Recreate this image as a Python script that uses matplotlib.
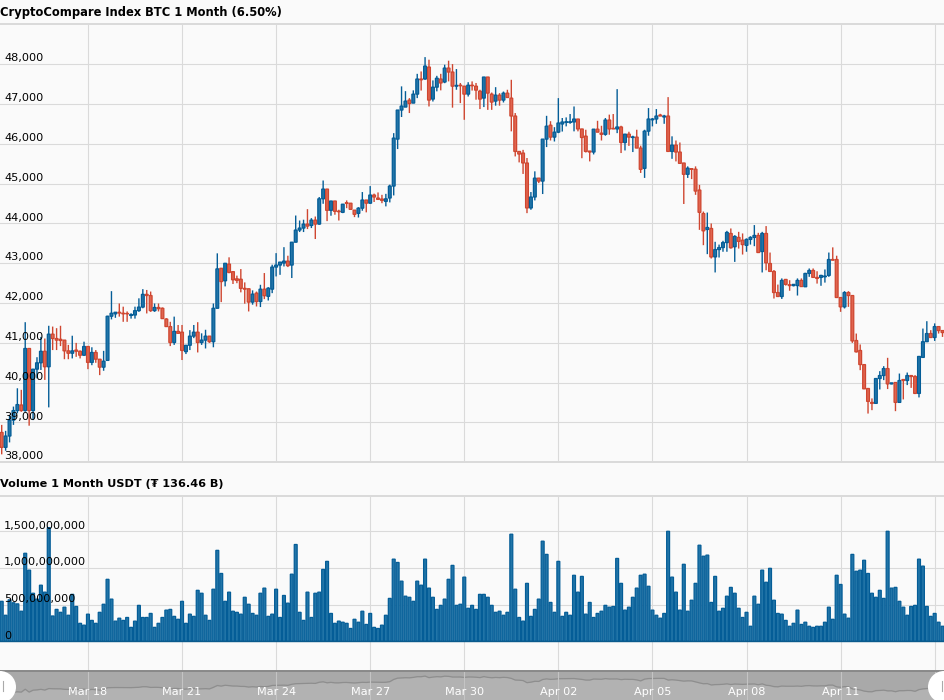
import matplotlib
matplotlib.use("Agg")
import matplotlib.pyplot as plt
from matplotlib.patches import Circle
from matplotlib.transforms import blended_transform_factory

W, H = 944, 700

opens = [
 38750,38375,38660,39060,39300,39440,39300,40860,39300,40340,
 40500,40790,40400,41220,41110,41090,41070,40800,40740,40820,
 40790,40690,40910,40510,40760,40590,40390,40560,41670,41730,
 41770,41745,41740,41690,41700,41810,41900,42220,42190,41810,
 41890,41870,41600,41410,41010,41290,41270,40780,40940,41170,
 41270,41010,41070,41170,41030,41870,42875,42560,42980,42790,
 42610,42600,42370,42360,42025,42250,42040,42350,42170,42350,
 42905,42955,43005,43055,42955,43530,43835,43885,43985,43950,
 44085,43985,44620,44865,44330,44565,44310,44280,44520,44510,
 44335,44255,44385,44590,44510,44715,44640,44615,44555,44640,
 44940,46120,46850,46925,47100,47025,47250,47630,47630,47930,
 47125,47425,47630,47555,47905,47805,47450,47475,47450,47250,
 47475,47450,47325,47150,47680,47250,47075,47225,47100,47275,
 47150,46700,45810,45770,45520,44390,44665,45140,45065,46120,
 46470,46170,46295,46500,46540,46540,46550,46625,46375,46195,
 45820,45795,46370,46270,46240,46600,46390,46375,46425,46035,
 46245,46160,46170,45895,45385,46320,46605,46625,46725,46675,
 46700,45810,45970,45795,45520,45235,45375,45365,44840,44250,
 43850,43875,43160,43345,43395,43520,43750,43415,43650,43580,
 43450,43600,43650,43700,43295,43750,42995,42795,42265,42165,
 42595,42460,42440,42440,42570,42410,42745,42820,42645,42645,
 42660,42695,43095,43095,42140,41905,42265,42190,41060,40810,
 40455,39855,39505,39480,40105,40180,40355,39970,40005,39505,
 40080,40055,40180,40155,39730,40635,41030,41235,41135,41410,
 41310]
closes = [
 38375,38660,39060,39300,39450,39300,40860,39300,40340,40500,
 40790,40400,41220,41110,41070,41060,40800,40740,40800,40790,
 40690,40910,40510,40760,40590,40390,40540,41670,41745,41770,
 41750,41730,41730,41710,41810,41900,42220,42190,41810,41890,
 41860,41610,41410,41010,41290,41240,40810,40940,41170,41270,
 41010,41070,41170,41030,41870,42860,42540,43000,42770,42585,
 42570,42370,42350,42025,42225,42040,42350,42185,42375,42905,
 42955,43030,43055,42940,43530,43835,43885,43985,43935,44085,
 43985,44620,44865,44330,44565,44305,44295,44485,44505,44355,
 44230,44385,44590,44510,44715,44665,44605,44580,44620,44940,
 46145,46850,46950,47075,47015,47250,47630,47610,47955,47100,
 47425,47650,47530,47905,47805,47450,47470,47460,47250,47475,
 47460,47350,47125,47680,47275,47050,47225,47100,47275,47165,
 46700,45810,45745,45520,44390,44665,45140,45065,46120,46445,
 46170,46295,46525,46550,46555,46555,46625,46375,46160,45810,
 45795,46370,46295,46240,46600,46375,46375,46425,46035,46245,
 46170,46175,45895,45360,46320,46625,46625,46700,46700,46700,
 45810,45970,45795,45510,45235,45390,45360,44815,44280,43815,
 43900,43160,43345,43395,43520,43775,43390,43675,43550,43470,
 43600,43650,43700,43270,43750,43010,42795,42265,42165,42570,
 42470,42440,42470,42570,42415,42745,42820,42645,42620,42695,
 42680,43095,43080,42140,41905,42265,42190,41050,40775,40455,
 39845,39530,39480,40105,40180,40355,39970,39995,39505,40055,
 40055,40180,40155,39730,40660,41030,41235,41135,41410,41310,
 41260]
highs = [
 38940,38790,39190,39400,39860,39820,41520,40860,40340,40640,
 41150,41110,41430,41410,41370,41430,41070,40950,41180,41000,
 40810,41030,40910,40890,40820,40590,40800,41680,42300,41770,
 41990,41910,41790,41745,41910,42120,42350,42330,42290,41990,
 41990,41890,41620,41530,41660,41450,41450,40940,41320,41450,
 41520,41240,41330,41170,41990,43250,42875,43000,43150,42790,
 42690,42855,42520,42360,42320,42290,42460,42755,42400,42965,
 43255,43030,43405,43190,43530,44200,44075,44095,44360,44135,
 44175,44665,45080,44865,44565,44565,44345,44490,44580,44510,
 44335,44410,44790,44590,44940,44750,44780,44720,44745,44975,
 46270,46850,47445,47325,47150,47345,47760,47820,48180,48115,
 47595,47710,47760,47990,48090,48005,47880,47530,47450,47550,
 47570,47530,47360,47680,47680,47290,47425,47275,47315,47360,
 47610,46775,45810,45850,45645,44790,45310,45140,46120,46705,
 46570,46420,47150,46650,46665,46750,46940,46625,46375,46355,
 45820,46370,46580,46455,46650,46735,46750,47375,46455,46245,
 46305,46205,46355,45955,46355,46900,46650,46875,46755,46730,
 47175,46190,46085,46035,45520,45435,45390,45435,44970,44300,
 44275,44000,43540,43470,43565,43815,43875,43705,43790,43750,
 43625,43680,43960,43765,43790,43935,43270,42830,42465,42620,
 42595,42575,42470,42620,42620,42760,42870,42870,42800,42710,
 42845,43270,43400,43190,42140,42300,42300,42190,41235,40960,
 40455,39855,39605,40105,40290,40415,40625,39995,40005,40230,
 40080,40255,40180,40190,40660,41360,41545,41320,41490,41410,
 41310]
lows = [
 38200,38290,38500,38940,39230,39270,39270,38920,39060,40110,
 40320,40070,39380,40820,40820,40920,40590,40590,40610,40650,
 40610,40670,40340,40440,40500,40190,40300,40560,41590,41630,
 41660,41530,41530,41610,41610,41780,41870,41740,41780,41780,
 41790,41610,41410,40920,40950,41240,40570,40720,40820,41120,
 40760,40950,40860,41000,40890,41870,42025,42420,42750,42480,
 42500,42270,41985,41790,41960,41915,41900,42100,42065,42250,
 42670,42710,42920,42905,42630,43530,43785,43785,43860,43885,
 43610,43970,44495,44060,44195,44220,44075,44260,44385,44355,
 44160,44150,44320,44280,44495,44540,44605,44510,44430,44530,
 44705,45870,46675,46925,46775,47025,47150,47340,47610,46940,
 47065,47320,47345,47525,47570,46910,47360,47025,46605,47190,
 47340,47110,46875,46925,46855,46855,46960,46960,47040,47165,
 46315,45685,45535,45245,44260,44345,44580,45015,44740,45920,
 46085,46060,46270,46310,46440,46505,46315,46315,45640,45785,
 45560,45735,46295,46085,46205,46230,46375,46270,45770,45835,
 45950,45795,45895,45270,45145,46205,46440,46505,46700,46505,
 45810,45625,45560,45510,44490,45145,45115,44720,43840,43455,
 43230,43120,42770,43145,43290,43290,43370,43035,43370,43220,
 43290,43470,43430,43270,42770,42825,42795,42115,42165,42105,
 42440,42310,42420,42190,42415,42410,42660,42645,42490,42435,
 42515,42660,43080,42140,41780,41865,41905,41000,40760,40315,
 39845,39225,39310,39480,39830,40065,39840,39960,39285,39505,
 39580,39940,39870,39715,39630,40635,41030,41135,41050,41235,
 41150]
volumes_m = [
 545,355,565,525,510,410,1200,970,655,575,
 765,670,1550,345,435,395,465,355,640,475,
 245,220,370,285,245,395,505,845,575,275,
 315,285,325,190,275,490,325,325,380,190,
 245,325,425,435,340,300,545,245,370,340,
 695,655,355,285,710,1240,925,545,670,410,
 395,370,600,505,380,355,655,725,340,370,
 710,325,625,520,915,1320,395,285,670,325,
 655,670,980,1090,380,245,275,260,245,175,
 300,260,410,230,380,190,175,220,355,585,
 1120,1075,820,615,600,545,820,765,1120,725,
 600,435,490,575,845,1035,490,505,875,450,
 490,435,640,640,600,490,395,410,355,395,
 1460,710,325,275,790,340,435,575,1365,1185,
 530,395,1090,340,395,355,900,670,885,370,
 530,325,380,410,490,465,475,1130,790,425,
 465,600,725,900,915,750,425,355,315,380,
 1500,875,670,425,1050,410,560,790,1310,1160,
 1175,530,885,410,450,615,735,655,450,325,
 395,205,615,505,970,805,995,560,380,370,
 285,205,245,425,230,260,205,190,205,205,
 260,465,300,900,775,370,315,1185,955,970,
 1105,925,655,600,695,585,1500,725,735,545,
 465,355,475,490,1120,1025,475,340,380,260,
 205]

price_ticks = [38000,39000,40000,41000,42000,43000,44000,45000,46000,47000,48000]
volume_ticks = [0,500000000,1000000000,1500000000]
date_positions = [22,46,70,94,118,142,166,190,214,238]
date_labels = ["Mar 18","Mar 21","Mar 24","Mar 27","Mar 30","Apr 02","Apr 05","Apr 08","Apr 11",""]
price_title = "CryptoCompare Index BTC 1 Month (6.50%)"
volume_title = "Volume 1 Month USDT (₮ 136.46 B)"

BG = "#fafafa"
GRID = "#dadada"
BLUE_E, BLUE_F = "#045d97", "#2275a8"
RED_E, RED_F = "#cf4630", "#e0654f"
FS = 8.1
TXT = "#000000"

plt.rcParams["font.family"] = ["DejaVu Sans"]
fig = plt.figure(figsize=(W/100, H/100), dpi=100, facecolor=BG)

def make_ax(top, bottom):
    ax = fig.add_axes([0, 1-bottom/H, 1, (bottom-top)/H], facecolor=BG)
    for s in ax.spines.values():
        s.set_visible(False)
    ax.set_xlim(-0.434, 240.38)
    ax.set_xticks(date_positions)
    ax.tick_params(length=0, labelbottom=False, labelleft=False)
    return ax

n = len(closes)
xs = list(range(n))

# price panel
ax1 = make_ax(24, 462.3)
ax1.set_ylim(38000, 49012)
ax1.set_yticks(price_ticks)
ax1.grid(True, color=GRID, lw=0.8)
ax1.set_axisbelow(True)
ax1.axhline(49012, color=GRID, lw=1.4, clip_on=False)
ax1.axhline(38000, color=GRID, lw=1.4, clip_on=False)
up = [c >= o for o, c in zip(opens, closes)]
wicks = ax1.vlines(xs, lows, highs, colors=[BLUE_E if u else RED_E for u in up], lw=1.0, zorder=2)
wicks.set_snap(False)
bodies = ax1.bar(xs, [abs(c-o) for o, c in zip(opens, closes)], bottom=[min(o, c) for o, c in zip(opens, closes)],
                 width=0.72, color=[BLUE_F if u else RED_F for u in up],
                 edgecolor=[BLUE_E if u else RED_E for u in up], lw=0.9, zorder=3)
for p in bodies:
    p.set_snap(False)
tr1 = blended_transform_factory(fig.transFigure, ax1.transData)
for t in price_ticks:
    ax1.annotate(f"{t:,}", xy=(4/W, t), xycoords=tr1, xytext=(0, 0.7), textcoords="offset points",
                 ha="left", va="bottom", fontsize=FS, color=TXT, zorder=10)

# volume panel
ax2 = make_ax(495.7, 671)
ax2.set_ylim(-405, 1985)
ax2.set_yticks([v/1e6 for v in volume_ticks])
ax2.grid(True, color=GRID, lw=0.8)
ax2.set_axisbelow(True)
ax2.axhline(1985, color=GRID, lw=1.4, clip_on=False)
vbars = ax2.bar(xs, volumes_m, width=0.74, color=BLUE_F, edgecolor=BLUE_E, lw=0.9, zorder=3)
for p in vbars:
    p.set_snap(False)
ax2.axhline(0, color="#0a5a8c", lw=1.0, zorder=4)
tr2 = blended_transform_factory(fig.transFigure, ax2.transData)
for v in volume_ticks:
    ax2.annotate(f"{v:,}", xy=(4/W, v/1e6), xycoords=tr2, xytext=(0, 0.4), textcoords="offset points",
                 ha="left", va="bottom", fontsize=FS, color=TXT, zorder=10)

# navigator
ax3 = make_ax(671, 700)
ax3.set_facecolor("#b2b2b2")
ax3.set_ylim(35030, 50700)
ax3.fill_between(xs, closes, 50700, color="#a9a9a9", lw=0, zorder=1)
ax3.plot(xs, closes, color="#8e8e8e", lw=0.9, zorder=2)
ax3.axhline(50700, color="#888888", lw=1.4, clip_on=False, zorder=3)
ax3.xaxis.grid(True, color="#c4c4c4", lw=0.8, zorder=1.5)
ax3.set_axisbelow(False)
for x, lab in zip(date_positions, date_labels):
    if lab:
        ax3.annotate(lab, xy=(x, 0), xycoords=("data", "axes fraction"), xytext=(0, 2.2),
                     textcoords="offset points", ha="center", va="bottom",
                     fontsize=FS, color="white", zorder=6)

# titles
fig.text(0, 1-12.8/H, price_title, fontsize=8.3, fontweight="bold", color=TXT, ha="left", va="center")
fig.text(0, 1-484/H, volume_title, fontsize=8.1, fontweight="bold", color=TXT, ha="left", va="center")

# navigator handles
over = fig.add_axes([0, 0, 1, 1], facecolor="none")
over.set_xlim(0, W); over.set_ylim(H, 0); over.axis("off")
for cx, bx in ((0, 2.5), (W, W-2.5)):
    over.add_patch(Circle((cx, 687), 16, facecolor="white", edgecolor="none"))
    over.plot([bx, bx], [681, 691], color="#aaaaaa", lw=0.8)

fig.savefig("out.png", dpi=100, facecolor=BG)
